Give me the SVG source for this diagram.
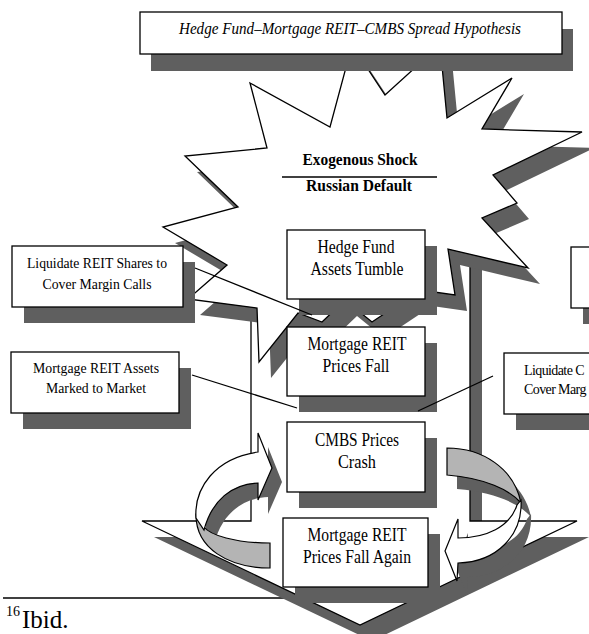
<svg xmlns="http://www.w3.org/2000/svg" xmlns:xlink="http://www.w3.org/1999/xlink" width="589" height="634" viewBox="0 0 589 634">
<style>
.sh{fill:#5f5f5f;stroke:none}
.box{fill:#fff;stroke:#000;stroke-width:1.3}
.t{font-family:"Liberation Serif","Times New Roman",serif;font-size:18px;text-anchor:middle;fill:#000}
.ts{font-size:14.5px}
.b{font-weight:bold;font-size:17px}
.it{font-style:italic;font-size:16.5px}
.st{font-size:14px;text-anchor:start;letter-spacing:-0.6px}
.ln{stroke:#000;stroke-width:1.3;fill:none}
.gr{fill:#b4b4b4;stroke:#000;stroke-width:1.2}
.wh{fill:#fff;stroke:#000;stroke-width:1.2}
.fn{font-family:"Liberation Serif","Times New Roman",serif;fill:#000}
</style>
<defs>
<path id="arrow" d="M251,200 L470,200 L470,521 L577,521 L360,625 L142,521 L251,521 Z"/>
<polygon id="burst" points="250,83 330,127 352,45 385,95 440,45 447,118 512,78 482,129 582,132 493,175 517,203 482,218 528,268 448,249 455,295 420,290 372,322 345,300 322,322 298,313 259,362 257,308 188,299 227,265 163,227 238,207 185,156 267,148"/>
<path id="wl" d="M196,518 C194,488 215,458 258,452 L258,433 L272,468 L258,500 L258,483 C232,484 212,500 204,530 Z"/>
<path id="gl" d="M196,515 C196,548 228,568 270,568 L270,543 C235,543 210,535 204,527 Z"/>
<path id="gr" d="M447,448 C482,448 514,468 521,503 C510,490 485,478 447,475 Z"/>
<path id="wr" d="M521,500 C523,535 497,562 458,563 L457,581 L445,551 L458,519 L458,538 C486,538 510,527 517,505 Z"/>
</defs>

<g id="footnote">
<line x1="3" y1="598" x2="292" y2="598" stroke="#000" stroke-width="1.5"/>
<text class="fn" x="6" y="616" font-size="14">16</text>
<text class="fn" x="22" y="628" font-size="25">Ibid.</text>
</g>

<g id="big-arrow">
<use xlink:href="#arrow" class="sh" transform="translate(12,16)"/>
<use xlink:href="#arrow" fill="#fff" stroke="#000" stroke-width="1.3"/>
</g>

<g id="shock">
<use xlink:href="#burst" class="sh" transform="translate(12,16)"/>
<use xlink:href="#burst" fill="#fff" stroke="#000" stroke-width="1.3"/>
<text class="t b" x="360" y="165" textLength="115" lengthAdjust="spacingAndGlyphs">Exogenous Shock</text>
<line x1="282" y1="177" x2="437" y2="177" stroke="#000" stroke-width="1.5"/>
<text class="t b" x="359" y="191" textLength="106" lengthAdjust="spacingAndGlyphs">Russian Default</text>
</g>

<g id="title">
<rect class="sh" x="151" y="29" width="422" height="42"/>
<rect class="box" x="140" y="12" width="422" height="42"/>
<text class="t it" x="350" y="34" textLength="342" lengthAdjust="spacingAndGlyphs">Hedge Fund–Mortgage REIT–CMBS Spread Hypothesis</text>
</g>

<g id="hedge-fund">
<rect class="sh" x="299" y="246" width="138" height="69"/>
<rect class="box" x="287" y="230" width="138" height="69"/>
<text class="t" x="356" y="253" textLength="77" lengthAdjust="spacingAndGlyphs">Hedge Fund</text>
<text class="t" x="357" y="275" textLength="93" lengthAdjust="spacingAndGlyphs">Assets Tumble</text>
</g>

<g id="mreit-fall">
<rect class="sh" x="299" y="343" width="138" height="69"/>
<rect class="box" x="287" y="327" width="138" height="69"/>
<text class="t" x="357" y="350" textLength="99" lengthAdjust="spacingAndGlyphs">Mortgage REIT</text>
<text class="t" x="356" y="372" textLength="67" lengthAdjust="spacingAndGlyphs">Prices Fall</text>
</g>

<g id="cmbs-crash">
<rect class="sh" x="299" y="438" width="138" height="70"/>
<rect class="box" x="287" y="422" width="138" height="70"/>
<text class="t" x="357" y="446" textLength="84" lengthAdjust="spacingAndGlyphs">CMBS Prices</text>
<text class="t" x="357" y="468" textLength="38" lengthAdjust="spacingAndGlyphs">Crash</text>
</g>

<g id="mreit-again">
<rect class="sh" x="295" y="534" width="145" height="69"/>
<rect class="box" x="283" y="518" width="145" height="69"/>
<text class="t" x="357" y="541" textLength="99" lengthAdjust="spacingAndGlyphs">Mortgage REIT</text>
<text class="t" x="357" y="563" textLength="108" lengthAdjust="spacingAndGlyphs">Prices Fall Again</text>
</g>

<g id="liquidate-reit">
<rect class="sh" x="24" y="262" width="171" height="61"/>
<rect class="box" x="12" y="246" width="171" height="61"/>
<text class="t ts" x="97" y="268" textLength="140" lengthAdjust="spacingAndGlyphs">Liquidate REIT Shares to</text>
<text class="t ts" x="97" y="289" textLength="109" lengthAdjust="spacingAndGlyphs">Cover Margin Calls</text>
</g>

<g id="marked-to-market">
<rect class="sh" x="23" y="368" width="168" height="61"/>
<rect class="box" x="11" y="352" width="168" height="61"/>
<text class="t ts" x="96" y="373" textLength="126" lengthAdjust="spacingAndGlyphs">Mortgage REIT Assets</text>
<text class="t ts" x="96" y="393" textLength="100" lengthAdjust="spacingAndGlyphs">Marked to Market</text>
</g>

<g id="liquidate-cmbs">
<rect class="sh" x="516" y="369" width="120" height="61"/>
<rect class="box" x="504" y="353" width="120" height="61"/>
<text class="t st" x="524" y="375">Liquidate C</text>
<text class="t st" x="524" y="394">Cover Marg</text>
</g>

<g id="top-right-box">
<rect class="sh" x="583" y="263" width="60" height="61"/>
<rect class="box" x="571" y="247" width="60" height="61"/>
</g>

<g id="connectors">
<line class="ln" x1="195" y1="268" x2="312" y2="315"/>
<line class="ln" x1="192" y1="375" x2="297" y2="408"/>
<line class="ln" x1="493" y1="376" x2="418" y2="411"/>
<g id="loop-left">
<use xlink:href="#wl" class="sh" transform="translate(10,14)"/>
<use xlink:href="#gl" class="gr"/>
<use xlink:href="#wl" class="wh"/>
</g>
<g id="loop-right">
<use xlink:href="#gr" class="sh" transform="translate(10,14)"/>
<use xlink:href="#wr" class="sh" transform="translate(10,14)"/>
<use xlink:href="#gr" class="gr"/>
<use xlink:href="#wr" class="wh"/>
</g>
</g>
</svg>
